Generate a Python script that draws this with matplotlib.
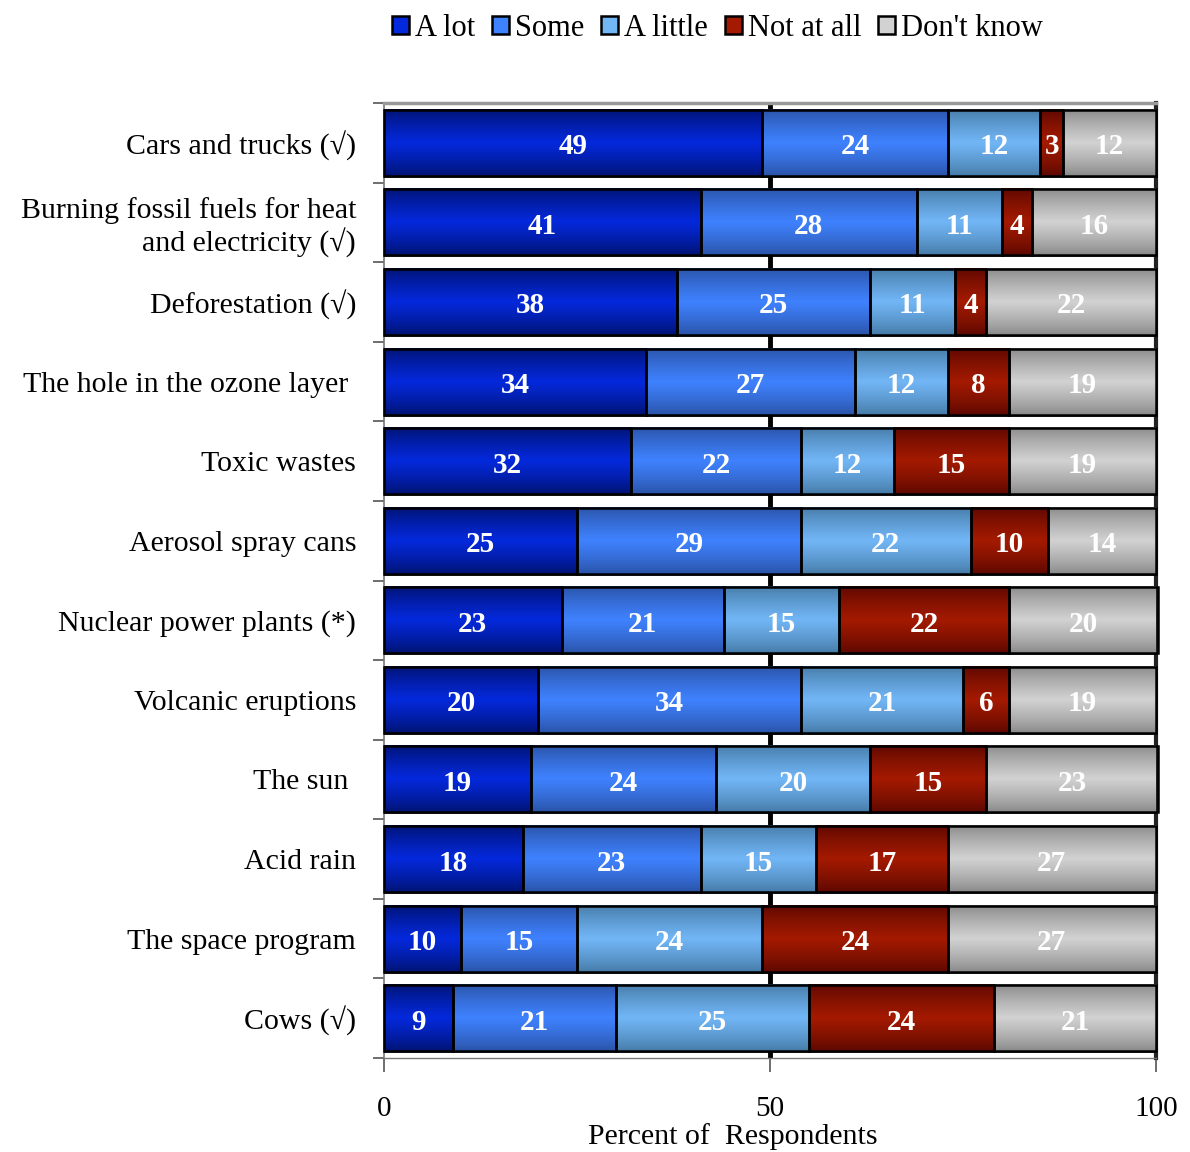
import numpy as np
import matplotlib
matplotlib.use("Agg")
import matplotlib.pyplot as plt
from matplotlib.patches import Patch
from matplotlib.colors import to_rgb

plt.rcParams['font.family'] = ['Liberation Serif', 'DejaVu Serif']

categories = ["Cars and trucks (\u221a)",
              "Burning fossil fuels for heat\nand electricity (\u221a)",
              "Deforestation (\u221a)",
              "The hole in the ozone layer ",
              "Toxic wastes",
              "Aerosol spray cans",
              "Nuclear power plants (*)",
              "Volcanic eruptions",
              "The sun ",
              "Acid rain",
              "The space program",
              "Cows (\u221a)"]

series = ["A lot", "Some", "A little", "Not at all", "Don't know"]
a_lot = [49, 41, 38, 34, 32, 25, 23, 20, 19, 18, 10, 9]
some = [24, 28, 25, 27, 22, 29, 21, 34, 24, 23, 15, 21]
a_little = [12, 11, 11, 12, 12, 22, 15, 21, 20, 15, 24, 25]
not_at_all = [3, 4, 4, 8, 15, 10, 22, 6, 15, 17, 24, 24]
dont_know = [12, 16, 22, 19, 19, 14, 20, 19, 23, 27, 27, 21]
values = [a_lot, some, a_little, not_at_all, dont_know]

# (edge shade, centre shade) for the vertical gradient of each series
shades = [("#001270", "#0429dc"),
          ("#2a52a6", "#3f82ff"),
          ("#457aa6", "#72b6f6"),
          ("#5c0800", "#a41a00"),
          ("#888888", "#d2d2d2")]


def gradient_image(edge, mid, n=64):
    e = np.array(to_rgb(edge))
    m = np.array(to_rgb(mid))
    t = np.linspace(0, 1, n)
    w = (1 - np.abs(2 * t - 1)) ** 0.8
    img = e[None, :] + (m - e)[None, :] * w[:, None]
    return img[:, None, :]


fig = plt.figure(figsize=(11.9, 11.52), dpi=100)
ax = fig.add_axes([384 / 1190, 1 - 1058 / 1152, 772 / 1190, 955 / 1152])

y = np.arange(len(categories))
left = np.zeros(len(categories))
for vals, (edge, mid), name in zip(values, shades, series):
    bars = ax.barh(y, vals, left=left, height=0.83, color=mid,
                   edgecolor="black", linewidth=1.8, zorder=3, label=name)
    img = gradient_image(edge, mid)
    for bar, v in zip(bars, vals):
        x0, y0 = bar.get_x(), bar.get_y()
        w, h = bar.get_width(), bar.get_height()
        x1 = min(x0 + w, 100.2)
        im = ax.imshow(img, extent=[x0, x1, y0 + h, y0], aspect="auto",
                       interpolation="bilinear", zorder=3.5)
        outline = plt.Rectangle((x0, y0), x1 - x0, h, fill=False,
                                edgecolor="black", linewidth=1.8, zorder=4,
                                clip_on=False)
        ax.add_patch(outline)
        ax.text((x0 + x1) / 2, y0 + h / 2 + 0.05, str(v), ha="center",
                va="center", color="white", fontsize=21, fontweight="bold",
                zorder=5)
    left += np.array(vals)

ax.set_xlim(0, 100)
ax.set_ylim(len(categories) - 0.5, -0.5)

# heavy line at 50, only seen between the bars
ax.axvline(50, color="black", linewidth=3.5, zorder=1)

ax.set_yticks(y)
ax.set_yticklabels(categories, fontsize=21.5, linespacing=1.15)
ax.tick_params(axis="y", which="major", length=0, pad=20)
ax.set_yticks(np.arange(len(categories) + 1) - 0.5, minor=True)
ax.tick_params(axis="y", which="minor", length=8, color="#555555", width=1.2)

ax.set_xticks([0, 50, 100])
ax.set_xticklabels(["0", "50", "100"], fontsize=21)
ax.tick_params(axis="x", length=10, color="#555555", width=1.2, pad=17)
ax.set_xlabel("Percent of  Respondents", fontsize=21.5)
ax.xaxis.set_label_coords(0.452, -0.068)

ax.spines["top"].set_color("#999999")
ax.spines["top"].set_linewidth(2.5)
ax.spines["left"].set_color("#777777")
ax.spines["left"].set_linewidth(1.2)
ax.spines["bottom"].set_color("#777777")
ax.spines["bottom"].set_linewidth(1.0)
ax.spines["right"].set_color("#222222")
ax.spines["right"].set_linewidth(3)

handles = [Patch(facecolor=mid, edgecolor="black", linewidth=1.8)
           for _, mid in shades]
fig.legend(handles, series, loc="upper center", bbox_to_anchor=(0.603, 1.012),
           ncol=5, frameon=False, fontsize=22, handlelength=0.55,
           handleheight=0.55, handletextpad=0.2, columnspacing=0.55)

fig.savefig("out.png", dpi=100)
